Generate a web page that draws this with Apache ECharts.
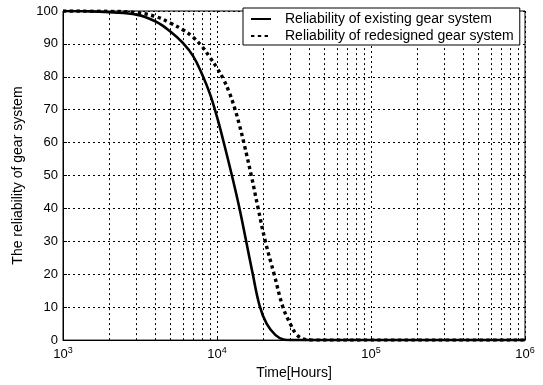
<!DOCTYPE html>
<html>
<head>
<meta charset="utf-8">
<script src="https://cdn.jsdelivr.net/npm/echarts@6/dist/echarts.min.js"></script>
<style>
html,body{margin:0;padding:0;background:#fff;}
#chart{width:543px;height:385px;}
</style>
</head>
<body>
<div id="chart"></div>
<script>
// Time (hours) and reliability (%)
var existingTime = [1000, 1500, 2000, 3000, 4000, 5000, 6000, 7000, 8000, 9000, 10000, 11000, 12500, 14000, 15400, 17000, 18900, 21000, 24000, 27000, 30000, 100000, 1000000];
var existingRel  = [100, 99.9, 99.6, 98.9, 96.8, 93.7, 90.3, 86.3, 80.8, 74.8, 67.8, 60.5, 50, 40, 30.5, 20.5, 10.5, 5, 1.5, 0.2, 0, 0, 0];

var redesignTime = [1000, 2000, 3000, 4000, 5000, 6000, 7000, 8000, 9000, 10000, 11000, 12000, 13000, 14000, 15000, 16700, 18500, 20600, 23500, 26800, 29900, 33000, 37300, 42000, 100000, 1000000];
var redesignRel  = [100, 99.9, 99.5, 98.3, 96.3, 94.3, 92, 89.2, 85.9, 82.7, 79.3, 75.3, 70.6, 65.3, 59.6, 50, 40, 30, 20, 10, 5, 1.6, 0.2, 0, 0, 0];

var xMin = 1000, xMax = 1000000;
var minorMultipliers = [2, 3, 4, 5, 6, 7, 8, 9];
var decades = [1000, 10000, 100000];

var seriesNames = ['Reliability of existing gear system', 'Reliability of redesigned gear system'];

function pairs(xs, ys) { return xs.map(function (x, i) { return [x, ys[i]]; }); }

var minorGrid = [];
decades.forEach(function (d) {
  minorMultipliers.forEach(function (m) { minorGrid.push({ xAxis: d * m }); });
});

var FONT = 'Liberation Sans, Arial, sans-serif';
var gridDash = [2, 3];

var chart = echarts.init(document.getElementById('chart'), null, { renderer: 'canvas' });
chart.setOption({
  backgroundColor: '#fff',
  animation: false,
  textStyle: { fontFamily: FONT, color: '#000' },
  grid: { left: 63, right: 18, top: 11, bottom: 43, show: true, borderColor: '#000', borderWidth: 1, backgroundColor: '#fff' },
  legend: {
    data: seriesNames,
    orient: 'vertical',
    left: 243,
    top: 8,
    z: 20,
    backgroundColor: '#fff',
    borderColor: '#000',
    borderWidth: 1,
    borderRadius: 0,
    padding: [3, 6, 1, 7],
    itemGap: 1,
    itemWidth: 20,
    itemHeight: 14,
    itemStyle: { color: 'transparent', borderColor: 'transparent', borderWidth: 0 },
    textStyle: { fontFamily: FONT, fontSize: 14, lineHeight: 16, color: '#000', padding: [0, 0, 0, 9] }
  },
  xAxis: {
    type: 'log',
    logBase: 10,
    min: xMin,
    max: xMax,
    name: 'Time[Hours]',
    nameLocation: 'middle',
    nameGap: 25,
    nameTextStyle: { fontFamily: FONT, fontSize: 14, color: '#000' },
    axisLine: { show: true, lineStyle: { color: '#000', width: 1 } },
    axisTick: { show: true, inside: true, length: 4, lineStyle: { color: '#000' } },
    axisLabel: {
      margin: 6,
      formatter: function (v) { return '10{sup|' + Math.round(Math.log10(v)) + '}'; },
      rich: { sup: { fontSize: 9, verticalAlign: 'top', padding: [0, 0, 8, 0], fontFamily: FONT, color: '#000' } },
      fontFamily: FONT, fontSize: 13, color: '#000'
    },
    splitLine: { show: true, lineStyle: { color: '#000', type: gridDash, width: 1 } }
  },
  yAxis: {
    type: 'value',
    min: 0,
    max: 100,
    interval: 10,
    name: 'The reliability of gear system',
    nameLocation: 'middle',
    nameGap: 38,
    nameTextStyle: { fontFamily: FONT, fontSize: 14, color: '#000' },
    axisLine: { show: true, lineStyle: { color: '#000', width: 1 } },
    axisTick: { show: true, inside: true, length: 4, lineStyle: { color: '#000' } },
    axisLabel: { margin: 5, fontFamily: FONT, fontSize: 13, color: '#000' },
    splitLine: { show: true, lineStyle: { color: '#000', type: gridDash, width: 1 } }
  },
  series: [
    {
      name: 'minorGrid',
      type: 'line',
      data: [],
      z: 1,
      silent: true,
      markLine: {
        z: 1,
        silent: true,
        symbol: 'none',
        label: { show: false },
        lineStyle: { color: '#000', type: gridDash, width: 1 },
        data: minorGrid
      }
    },
    {
      name: seriesNames[0],
      type: 'line',
      z: 3,
      symbol: 'none',
      smooth: 0.4,
      data: pairs(existingTime, existingRel),
      lineStyle: { color: '#000', width: 2.6 },
      itemStyle: { color: '#000' }
    },
    {
      name: seriesNames[1],
      type: 'line',
      z: 3,
      symbol: 'none',
      smooth: 0.4,
      data: pairs(redesignTime, redesignRel),
      lineStyle: { color: '#000', width: 3.4, type: [3.4, 3.4] },
      itemStyle: { color: '#000' }
    }
  ]
});
</script>
</body>
</html>
